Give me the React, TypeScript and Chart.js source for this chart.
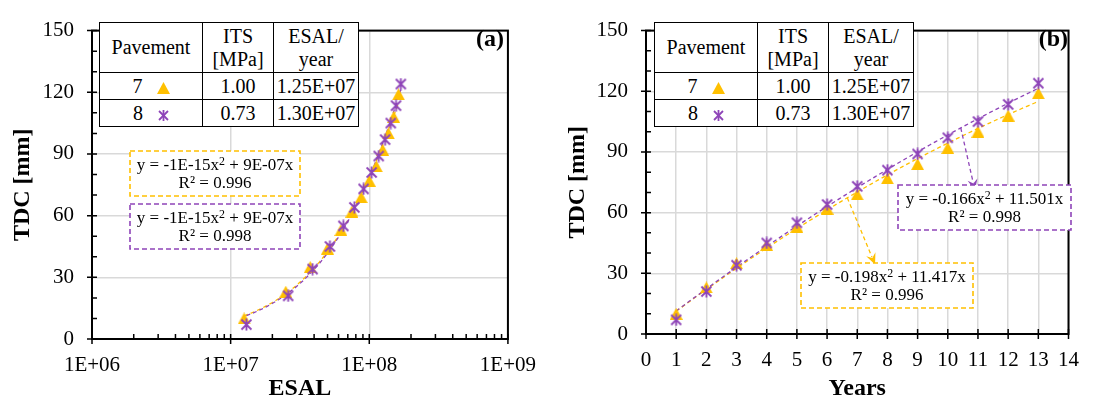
import React, { useEffect, useRef } from 'react';
import { Chart, registerables } from 'chart.js';
Chart.register(...registerables);

// ---------------- data ----------------
const years = [1, 2, 3, 4, 5, 6, 7, 8, 9, 10, 11, 12, 13];
const tdcPav7 = [10, 23, 35, 44, 53, 62, 69, 77, 84, 92, 100, 108, 119];
const tdcPav8 = [7, 21, 34, 45, 55, 64, 73, 81, 89, 97, 105, 113.5, 124];
const esalPerYear7 = 1.25e7;
const esalPerYear8 = 1.3e7;
// fitted polynomial trendlines (TDC vs years), as printed on chart (b)
const trendCoef7 = [-0.198, 11.417];
const trendCoef8 = [-0.166, 11.501];

const yTickValues = [0, 30, 60, 90, 120, 150];
const yMinorValues = [10, 20, 40, 50, 70, 80, 100, 110, 130, 140];
const xLogTickValues = [1e6, 1e7, 1e8, 1e9];
const xLogTickLabels = ['1E+06', '1E+07', '1E+08', '1E+09'];
const xYearTickValues = [0, 1, 2, 3, 4, 5, 6, 7, 8, 9, 10, 11, 12, 13, 14];

const tablePavements = ['7', '8'];
const tableITS = ['1.00', '0.73'];
const tableESAL = ['1.25E+07', '1.30E+07'];

const eqLeft7 = ['-1E-15', '9E-07', '0.996'];
const eqLeft8 = ['-1E-15', '9E-07', '0.998'];
const eqRight7 = ['-0.198', '11.417', '0.996'];
const eqRight8 = ['-0.166', '11.501', '0.998'];

// arrow annotations on chart (b): [startYear, endYear, endTDC]
const arrow8 = [10.43, 10.9, 71];
const arrow7 = [6.67, 7.59, 34.4];

const YELLOW = '#FFC000';
const PURPLE = '#8E44B8';
const GRID = '#D9D9D9';
const FONT = '"Liberation Serif", "Times New Roman", serif';

function trendAt(coef: number[], t: number) {
  return coef[0] * t * t + coef[1] * t;
}
function trendSamples(coef: number[], scaleX: number) {
  const pts: { x: number; y: number }[] = [];
  for (let k = 0; k <= 120; k++) {
    const t = 1 + (12 * k) / 120;
    pts.push({ x: t * scaleX, y: trendAt(coef, t) });
  }
  return pts;
}

function makeTriangle(color: string) {
  const c = document.createElement('canvas');
  c.width = 13;
  c.height = 12;
  const g = c.getContext('2d')!;
  g.fillStyle = color;
  g.beginPath();
  g.moveTo(6.5, 0);
  g.lineTo(13, 12);
  g.lineTo(0, 12);
  g.closePath();
  g.fill();
  return c;
}
function makeAsterisk(color: string) {
  const c = document.createElement('canvas');
  c.width = 13;
  c.height = 13;
  const g = c.getContext('2d')!;
  g.strokeStyle = color;
  g.lineWidth = 1.8;
  g.beginPath();
  g.moveTo(1.5, 1.5);
  g.lineTo(11.5, 11.5);
  g.moveTo(11.5, 1.5);
  g.lineTo(1.5, 11.5);
  g.moveTo(6.5, 0.5);
  g.lineTo(6.5, 12.5);
  g.stroke();
  return c;
}

function makeFramePlugin(xMajor: number[], xMinor: number[]) {
  return {
    id: 'frame',
    beforeDatasetsDraw(chart: any) {
      const { ctx, chartArea: a, scales } = chart;
      const xs = scales.x;
      const ys = scales.y;
      ctx.save();
      ctx.strokeStyle = '#000';
      ctx.lineWidth = 1.5;
      ctx.beginPath();
      for (const v of yTickValues) {
        const p = ys.getPixelForValue(v);
        ctx.moveTo(a.left - 5, p);
        ctx.lineTo(a.left + 5, p);
      }
      for (const v of yMinorValues) {
        const p = ys.getPixelForValue(v);
        ctx.moveTo(a.left, p);
        ctx.lineTo(a.left + 5, p);
      }
      for (const v of xMajor) {
        const p = xs.getPixelForValue(v);
        ctx.moveTo(p, a.bottom - 5);
        ctx.lineTo(p, a.bottom + 5);
      }
      for (const v of xMinor) {
        const p = xs.getPixelForValue(v);
        ctx.moveTo(p, a.bottom);
        ctx.lineTo(p, a.bottom - 5);
      }
      ctx.stroke();
      ctx.lineWidth = 2;
      ctx.strokeRect(a.left, a.top, a.right - a.left, a.bottom - a.top);
      ctx.restore();
    },
  };
}

function makeArrowPlugin() {
  const arrows = [
    { spec: arrow8, coef: trendCoef8, color: PURPLE },
    { spec: arrow7, coef: trendCoef7, color: YELLOW },
  ];
  return {
    id: 'arrows',
    afterDatasetsDraw(chart: any) {
      const { ctx, scales } = chart;
      const xs = scales.x;
      const ys = scales.y;
      ctx.save();
      for (const ar of arrows) {
        const x0 = xs.getPixelForValue(ar.spec[0]);
        const y0 = ys.getPixelForValue(trendAt(ar.coef, ar.spec[0]));
        const x1 = xs.getPixelForValue(ar.spec[1]);
        const y1 = ys.getPixelForValue(ar.spec[2]);
        const ang = Math.atan2(y1 - y0, x1 - x0);
        const len = 11;
        const bx = x1 - Math.cos(ang) * 8;
        const by = y1 - Math.sin(ang) * 8;
        ctx.strokeStyle = ar.color;
        ctx.lineWidth = 1.3;
        ctx.setLineDash([4, 3]);
        ctx.beginPath();
        ctx.moveTo(x0, y0);
        ctx.lineTo(bx, by);
        ctx.stroke();
        ctx.setLineDash([]);
        ctx.fillStyle = ar.color;
        const px = -Math.sin(ang);
        const py = Math.cos(ang);
        const backX = x1 - Math.cos(ang) * len;
        const backY = y1 - Math.sin(ang) * len;
        ctx.beginPath();
        ctx.moveTo(x1, y1);
        ctx.lineTo(backX + px * 5, backY + py * 5);
        ctx.lineTo(x1 - Math.cos(ang) * 7, y1 - Math.sin(ang) * 7);
        ctx.lineTo(backX - px * 5, backY - py * 5);
        ctx.closePath();
        ctx.fill();
      }
      ctx.restore();
    },
  };
}

function yAxis(width: number, titlePad: number) {
  return {
    type: 'linear',
    min: 0,
    max: 150,
    afterBuildTicks: (s: any) => {
      s.ticks = yTickValues.map((v) => ({ value: v }));
    },
    afterFit: (s: any) => {
      s.width = width;
    },
    ticks: { padding: 18, color: '#000', font: { size: 21, family: FONT } },
    grid: { color: GRID, lineWidth: 1.5, drawTicks: false },
    border: { display: false },
    title: {
      display: true,
      text: 'TDC [mm]',
      color: '#000',
      font: { size: 24, weight: 'bold', family: FONT },
      padding: { top: titlePad, bottom: 0 },
    },
  };
}

function buildChart(canvas: HTMLCanvasElement, which: 'a' | 'b') {
  const tri = makeTriangle(YELLOW);
  const ast = makeAsterisk(PURPLE);
  const sx7 = which === 'a' ? esalPerYear7 : 1;
  const sx8 = which === 'a' ? esalPerYear8 : 1;
  const datasets: any[] = [
    {
      label: 'Pavement 8',
      data: years.map((t, i) => ({ x: t * sx8, y: tdcPav8[i] })),
      pointStyle: ast,
      pointRadius: 6,
      showLine: false,
      order: 0,
    },
    {
      label: 'Pavement 7',
      data: years.map((t, i) => ({ x: t * sx7, y: tdcPav7[i] })),
      pointStyle: tri,
      pointRadius: 6,
      showLine: false,
      order: 1,
    },
    {
      label: 'Trend 8',
      data: trendSamples(trendCoef8, sx8),
      showLine: true,
      borderColor: PURPLE,
      borderWidth: 1.3,
      borderDash: [4, 3],
      pointRadius: 0,
      order: 2,
    },
    {
      label: 'Trend 7',
      data: trendSamples(trendCoef7, sx7),
      showLine: true,
      borderColor: YELLOW,
      borderWidth: 1.3,
      borderDash: [4, 3],
      pointRadius: 0,
      order: 3,
    },
  ];

  let xMinor: number[] = [];
  if (which === 'a') {
    for (const d of [1e6, 1e7, 1e8]) for (let m = 2; m <= 9; m++) xMinor.push(m * d);
  }

  const xScale: any =
    which === 'a'
      ? {
          type: 'logarithmic',
          min: 1e6,
          max: 1e9,
          afterBuildTicks: (s: any) => {
            s.ticks = xLogTickValues.map((v) => ({ value: v }));
          },
          afterFit: (s: any) => {
            s.height = 65;
          },
          ticks: {
            padding: 14,
            autoSkip: false,
            maxRotation: 0,
            color: '#000',
            font: { size: 21, family: FONT },
            callback: (_v: any, i: number) => xLogTickLabels[i],
          },
          grid: { color: GRID, lineWidth: 1.5, drawTicks: false },
          border: { display: false },
          title: {
            display: true,
            text: 'ESAL',
            color: '#000',
            font: { size: 24, weight: 'bold', family: FONT },
            padding: { top: 0, bottom: 1 },
          },
        }
      : {
          type: 'linear',
          min: 0,
          max: 14,
          afterBuildTicks: (s: any) => {
            s.ticks = xYearTickValues.map((v) => ({ value: v }));
          },
          afterFit: (s: any) => {
            s.height = 70;
          },
          ticks: {
            padding: 14,
            autoSkip: false,
            maxRotation: 0,
            color: '#000',
            font: { size: 21, family: FONT },
          },
          grid: { color: GRID, lineWidth: 1.5, drawTicks: false },
          border: { display: false },
          title: {
            display: true,
            text: 'Years',
            color: '#000',
            font: { size: 24, weight: 'bold', family: FONT },
            padding: { top: 0, bottom: 1 },
          },
        };

  const plugins: any[] = [makeFramePlugin(which === 'a' ? xLogTickValues : xYearTickValues, xMinor)];
  if (which === 'b') plugins.push(makeArrowPlugin());

  return new Chart(canvas, {
    type: 'scatter',
    data: { datasets },
    plugins,
    options: {
      responsive: false,
      animation: false,
      devicePixelRatio: 1,
      layout: {
        padding:
          which === 'a'
            ? { left: 0, top: 17, right: 38, bottom: 0 }
            : { left: 0, top: 17, right: 16.5, bottom: 0 },
      },
      plugins: { legend: { display: false }, tooltip: { enabled: false } },
      scales: {
        x: xScale,
        y: yAxis(which === 'a' ? 92 : 96, which === 'a' ? 8.6 : 13),
      },
    } as any,
  });
}

function Triangle() {
  return (
    <svg width={13} height={12} style={{ verticalAlign: 'middle', marginLeft: 14 }}>
      <polygon points="6.5,0 13,12 0,12" fill={YELLOW} />
    </svg>
  );
}
function Asterisk() {
  return (
    <svg width={11} height={11} style={{ verticalAlign: 'middle', marginLeft: 15 }}>
      <g stroke={PURPLE} strokeWidth={1.8}>
        <line x1={1} y1={1} x2={10} y2={10} />
        <line x1={10} y1={1} x2={1} y2={10} />
        <line x1={5.5} y1={0} x2={5.5} y2={11} />
      </g>
    </svg>
  );
}

function InfoTable({ left, top }: { left: number; top: number }) {
  const td: React.CSSProperties = {
    border: '1.5px solid #000',
    padding: 0,
    textAlign: 'center',
    verticalAlign: 'middle',
    whiteSpace: 'nowrap',
  };
  return (
    <table
      style={{
        position: 'absolute',
        left,
        top,
        borderCollapse: 'collapse',
        tableLayout: 'fixed',
        width: 259,
        background: '#fff',
        fontFamily: FONT,
        fontSize: 20,
        color: '#000',
      }}
    >
      <colgroup>
        <col style={{ width: 103 }} />
        <col style={{ width: 71 }} />
        <col style={{ width: 85 }} />
      </colgroup>
      <tbody>
        <tr style={{ height: 50 }}>
          <td style={{ ...td, lineHeight: '23px' }}>Pavement</td>
          <td style={{ ...td, lineHeight: '23px' }}>
            ITS
            <br />
            [MPa]
          </td>
          <td style={{ ...td, lineHeight: '23px' }}>
            ESAL/
            <br />
            year
          </td>
        </tr>
        {tablePavements.map((p, i) => (
          <tr key={p} style={{ height: 27 }}>
            <td style={{ ...td, lineHeight: '24px' }}>
              {p}
              {i === 0 ? <Triangle /> : <Asterisk />}
            </td>
            <td style={{ ...td, lineHeight: '24px' }}>{tableITS[i]}</td>
            <td style={{ ...td, lineHeight: '24px' }}>{tableESAL[i]}</td>
          </tr>
        ))}
      </tbody>
    </table>
  );
}

function EqBox({
  left,
  top,
  width,
  height,
  color,
  eq,
}: {
  left: number;
  top: number;
  width: number;
  height: number;
  color: string;
  eq: string[];
}) {
  return (
    <div style={{ position: 'absolute', left, top, width, height }}>
      <svg width={width} height={height} style={{ position: 'absolute', left: 0, top: 0 }}>
        <rect
          x={1}
          y={1}
          width={width - 2}
          height={height - 2}
          fill="#fff"
          stroke={color}
          strokeWidth={1.6}
          strokeDasharray="5 3"
        />
      </svg>
      <div
        style={{
          position: 'relative',
          textAlign: 'center',
          fontFamily: FONT,
          fontSize: 17,
          lineHeight: '18px',
          paddingTop: 6,
          color: '#000',
          whiteSpace: 'nowrap',
        }}
      >
        <div>
          y = {eq[0]}x
          <sup style={{ fontSize: '0.7em', verticalAlign: '0.45em', lineHeight: 0 }}>2</sup> + {eq[1]}x
        </div>
        <div>R² = {eq[2]}</div>
      </div>
    </div>
  );
}

function PanelLabel({ right, text }: { right: number; text: string }) {
  return (
    <div
      style={{
        position: 'absolute',
        left: right - 60,
        width: 60,
        top: 26,
        textAlign: 'right',
        fontFamily: FONT,
        fontWeight: 'bold',
        fontSize: 24,
        lineHeight: '24px',
        color: '#000',
      }}
    >
      {text}
    </div>
  );
}

export default function App() {
  const leftRef = useRef<HTMLCanvasElement>(null);
  const rightRef = useRef<HTMLCanvasElement>(null);

  useEffect(() => {
    const c1 = buildChart(leftRef.current!, 'a');
    const c2 = buildChart(rightRef.current!, 'b');
    return () => {
      c1.destroy();
      c2.destroy();
    };
  }, []);

  return (
    <div
      style={{
        position: 'absolute',
        left: 0,
        top: 0,
        width: 1093,
        height: 404,
        background: '#fff',
        overflow: 'hidden',
      }}
    >
      <canvas
        ref={leftRef}
        width={550}
        height={404}
        style={{ position: 'absolute', left: 0, top: 0, width: 550, height: 404 }}
      />
      <canvas
        ref={rightRef}
        width={543}
        height={404}
        style={{ position: 'absolute', left: 550, top: 0, width: 543, height: 404 }}
      />
      <InfoTable left={99} top={22} />
      <InfoTable left={654} top={22} />
      <EqBox left={129} top={150} width={172} height={47} color={YELLOW} eq={eqLeft7} />
      <EqBox left={129} top={203} width={172} height={47} color={PURPLE} eq={eqLeft8} />
      <EqBox left={897} top={184} width={175} height={47} color={PURPLE} eq={eqRight8} />
      <EqBox left={800} top={262} width={174} height={47} color={YELLOW} eq={eqRight7} />
      <PanelLabel right={504} text="(a)" />
      <PanelLabel right={1068} text="(b)" />
    </div>
  );
}
